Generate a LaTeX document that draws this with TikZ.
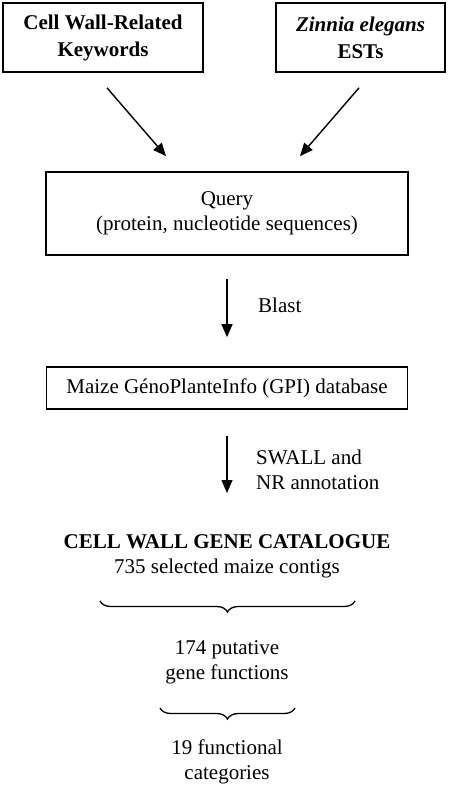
\documentclass[tikz,border=0pt]{standalone}
\usepackage{fontspec}
\setmainfont{Liberation Serif}
\usetikzlibrary{arrows.meta}
\usetikzlibrary{decorations.pathreplacing}

\begin{document}
\begin{tikzpicture}[x=1pt,y=-1pt,
    font=\fontsize{21}{25}\selectfont,
    box/.style={draw,line width=1.7pt,align=center,inner sep=0pt},
    arr/.style={line width=1.4pt,-{Triangle[length=13pt,width=11pt]}},
    lbl/.style={align=left,anchor=west,inner sep=0pt},
    brc/.style={decorate,decoration={brace,mirror,amplitude=11pt},line width=1.3pt}]
  \useasboundingbox (0,0) rectangle (448,789);
  \node[box,minimum width=200pt,minimum height=69pt,font=\fontsize{21}{27}\selectfont\bfseries] (kw) at (103,37.5) {Cell Wall-Related\\Keywords};
  \node[box,minimum width=169pt,minimum height=69pt,font=\fontsize{21}{27}\selectfont\bfseries] (est) at (360.5,37.5) {\textit{Zinnia elegans}\\ESTs};
  \node[box,minimum width=362pt,minimum height=83pt] (query) at (227,213.5) {Query\\(protein, nucleotide sequences)};
  \node[box,minimum width=361pt,minimum height=42pt] (gpi) at (227,388) {Maize GénoPlanteInfo (GPI) database};
  \node[align=center,inner sep=0pt] (cat) at (227,556) {\textbf{CELL WALL GENE CATALOGUE}\\735 selected maize contigs};
  \node[align=center,inner sep=0pt] (fun) at (227,662.5) {174 putative\\gene functions};
  \node[align=center,inner sep=0pt] (grp) at (227,761.5) {19 functional\\categories};
  \node[lbl] (blast) at (258,305) {Blast};
  \node[lbl] (swall) at (256,469.5) {SWALL and\\NR annotation};
  \coordinate (b1l) at (100,601);
  \coordinate (b1r) at (355,601);
  \coordinate (b2l) at (160,708);
  \coordinate (b2r) at (295,708);

  \draw[arr] ([xshift=4pt,yshift=-15pt]kw.south) -- ([xshift=-61pt,yshift=15pt]query.north);
  \draw[arr] ([xshift=-1.5pt,yshift=-15pt]est.south) -- ([xshift=73pt,yshift=15pt]query.north);
  \draw[arr,shorten <=23pt,shorten >=29pt] (query.south) -- (gpi.north);
  \draw[arr,shorten <=26pt] (gpi.south) -- (gpi.south |- 0,493);
  \draw[brc] (b1l) -- (b1r);
  \draw[brc] (b2l) -- (b2r);
\end{tikzpicture}
\end{document}
